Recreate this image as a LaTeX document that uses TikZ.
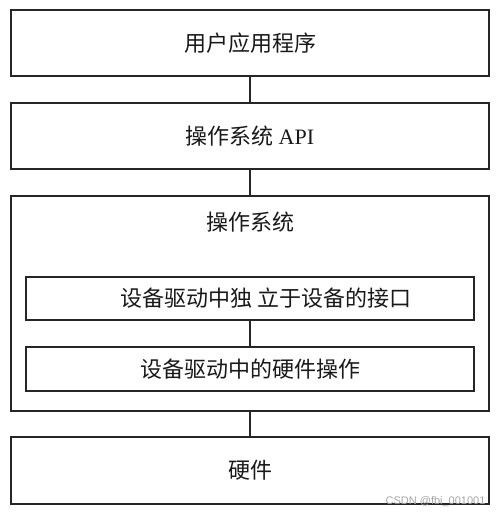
\documentclass[tikz,border=0pt]{standalone}
\usepackage{fontspec}
\newfontfamily\cjk{Noto Sans CJK SC}
\setmainfont{Liberation Serif}
\begin{document}
\begin{tikzpicture}[x=1pt,y=-1pt,
  box/.style={draw=black!85,line width=1.8pt,fill=white,inner sep=0pt,rectangle},
  lbl/.style={font=\cjk\fontsize{22}{25}\selectfont,text=black!90},
  conn/.style={draw=black!85,line width=2pt}]
\useasboundingbox (0,0) rectangle (500,517);
\fill[white] (0,0) rectangle (500,517);
% boxes
\node[box,lbl,minimum width=478pt,minimum height=66pt] (app) at (250,43) {用户应用程序};
\node[box,lbl,minimum width=478pt,minimum height=66pt] (api) at (250,136) {操作系统 {\fontspec{Liberation Serif}API}};
\node[box,minimum width=478pt,minimum height=215pt] (os) at (250,303.5) {};
\node[lbl] (oslbl) at (250,222) {操作系统};
\node[box,minimum width=448pt,minimum height=43pt] (ifc) at (250,298.5) {};
\node[lbl] (ifclbl) at (266,298) {设备驱动中独 立于设备的接口};
\node[box,lbl,minimum width=448pt,minimum height=44pt] (hwop) at (250,369) {设备驱动中的硬件操作};
\node[box,lbl,minimum width=478pt,minimum height=67pt] (hw) at (250,470.5) {硬件};
% connectors
\draw[conn] (app.south) -- (api.north);
\draw[conn] (api.south) -- (os.north);
\draw[conn] (ifc.south) -- (hwop.north);
\draw[conn] (os.south) -- (hw.north);
% watermark
\node[font=\fontspec{Liberation Sans}\fontsize{11}{12}\selectfont,text=black!35,anchor=east] (wm) at (489,502) {CSDN @fbi\_001001};
\end{tikzpicture}
\end{document}
